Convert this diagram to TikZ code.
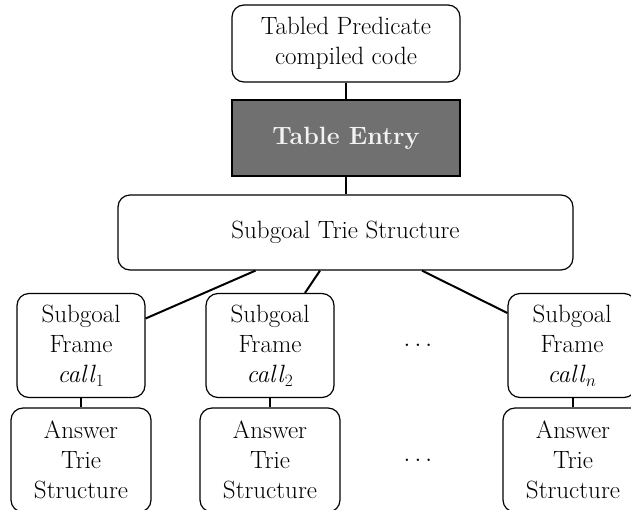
\documentclass[tikz,border=0pt]{standalone}
\usepackage{tikz}
\definecolor{entrygray}{HTML}{707070}
\definecolor{entrytext}{HTML}{F2F2F2}
\begin{document}
\begin{tikzpicture}[x=1pt,y=-1pt,
  box/.style={draw=black,line width=1.2pt,rounded corners=12pt,inner sep=0pt,align=center,
    font=\fontsize{25}{30}\selectfont},
  entry/.style={draw=black,line width=1.2pt,fill=entrygray,inner sep=0pt,align=center,
    text=entrytext,font=\fontsize{25}{30}\selectfont\bfseries},
  conn/.style={line width=2pt}]
\useasboundingbox (0,0) rectangle (631,509);
\node[box,minimum width=228pt,minimum height=77pt] (top) at (346,43.5) {Tabled Predicate\\compiled code};
\node[entry,minimum width=228pt,minimum height=76pt] (te) at (346,138) {Table Entry};
\node[box,minimum width=455pt,minimum height=75pt] (trie) at (345.5,232.5) {Subgoal Trie Structure};
\node[box,minimum width=128pt,minimum height=104pt] (f1) at (81,345.5) {Subgoal\\Frame\\\textit{call}$_1$};
\node[box,minimum width=128pt,minimum height=104pt] (f2) at (270,345.5) {Subgoal\\Frame\\\textit{call}$_2$};
\node[box,minimum width=128pt,minimum height=104pt] (fn) at (572,345.5) {Subgoal\\Frame\\\textit{call}$_n$};
\node[box,minimum width=140pt,minimum height=104pt] (a1) at (81,460) {Answer\\Trie\\Structure};
\node[box,minimum width=140pt,minimum height=104pt] (a2) at (270,460) {Answer\\Trie\\Structure};
\node[box,minimum width=140pt,minimum height=104pt] (an) at (573,460) {Answer\\Trie\\Structure};
\node[inner sep=0pt,font=\fontsize{25}{30}\selectfont] (d1) at (418,345) {$\dots$};
\node[inner sep=0pt,font=\fontsize{25}{30}\selectfont] (d2) at (418,460) {$\dots$};
\draw[conn] (top) -- (te);
\draw[conn] (te.south) -- (te.south |- trie.north);
\draw[conn] ([xshift=-90pt]trie.south) -- ([yshift=27pt]f1.east);
\draw[conn] ([xshift=-25.5pt]trie.south) -- ([xshift=35pt]f2.north);
\draw[conn] ([xshift=76.5pt]trie.south) -- ([yshift=32.5pt]fn.west);
\draw[conn] (f1) -- (a1);
\draw[conn] (f2) -- (a2);
\draw[conn] (fn.south -| an.north) -- (an.north);
\end{tikzpicture}
\end{document}
